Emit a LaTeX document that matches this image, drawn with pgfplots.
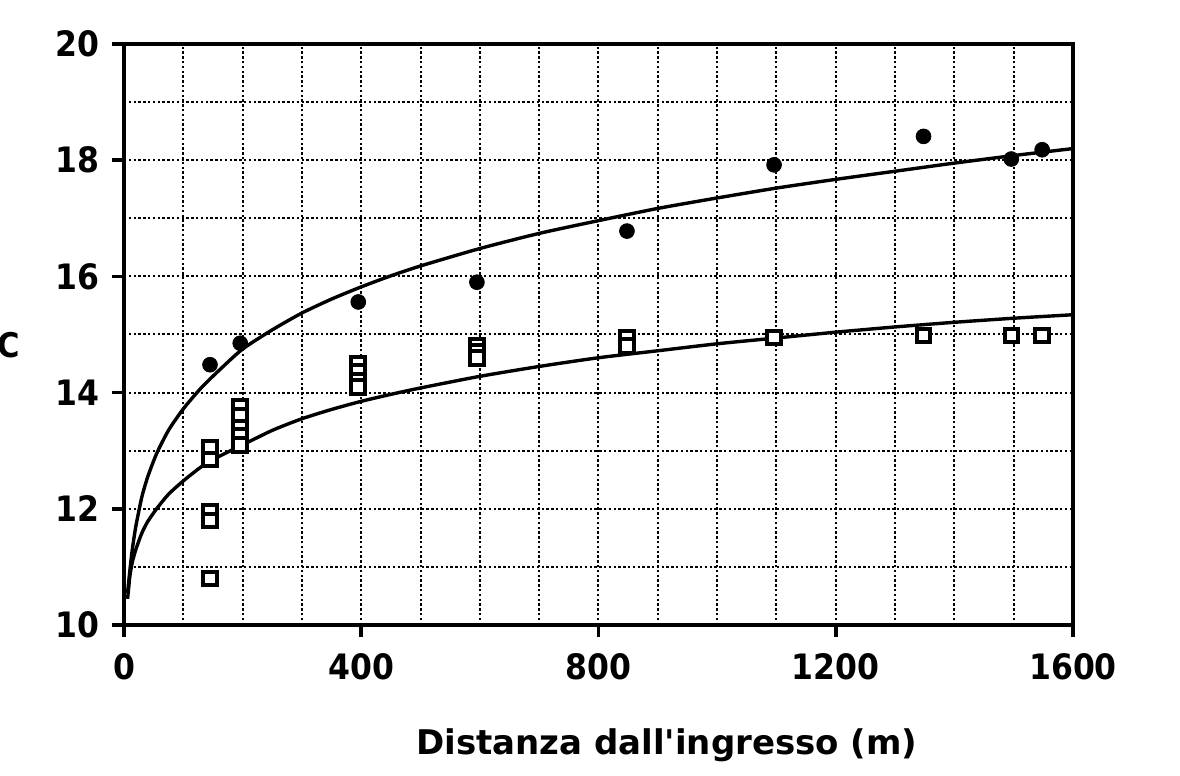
\documentclass[border=0pt]{standalone}
\usepackage{fontspec}
\setmainfont{DejaVu Sans}[FakeStretch=0.9]
\newfontfamily\lblfont{DejaVu Sans}
\usepackage{pgfplots}
\pgfplotsset{compat=1.18}
\begin{document}
\begin{tikzpicture}
\useasboundingbox (-62pt,-75.5pt) rectangle (528pt,312.5pt);
\begin{axis}[
  at={(0,0)}, anchor=south west,
  scale only axis, width=474.5pt, height=290.5pt,
  xmin=0, xmax=1600, ymin=10, ymax=20,
  xtick={0,400,...,1600}, ytick={10,12,...,20},
  minor xtick={100,200,...,1500}, minor ytick={11,13,...,19},
  grid=both,
  major grid style={black, line width=1pt, dash pattern=on 1.2pt off 1.2pt},
  minor grid style={black, line width=1pt, dash pattern=on 1.2pt off 1.2pt},
  tick align=outside, tick pos=left,
  major tick length=6pt, minor tick length=0pt,
  every tick/.style={black, line width=1.8pt},
  axis line style={line width=2pt},
  /pgf/number format/assume math mode=true,
  /pgf/number format/1000 sep={},
  tick label style={font=\fontsize{17.5}{17.5}\selectfont\bfseries},
  xticklabel style={yshift=-4.5pt},
  yticklabel style={xshift=-3pt},
  xlabel={\lblfont Distanza dall'ingresso (m)},
  xlabel style={font=\fontsize{17}{17}\selectfont\bfseries, at={(axis description cs:0.572,0)}, anchor=center, yshift=-60pt},
  ylabel={C},
  ylabel style={font=\fontsize{17}{17}\selectfont\bfseries, at={(axis description cs:0,0.482)}, anchor=center, rotate=-90, xshift=-57.5pt},
  clip=false,
]
% fitted curves
\addplot[black, line width=1.7pt, smooth, tension=0.4] coordinates {
  (6,10.55) (8,10.75) (10,10.95) (14,11.3) (20,11.7) (30,12.2) (40,12.55)
  (55,12.95) (75,13.35) (100,13.72) (130,14.08) (160,14.38)
  (200,14.75) (250,15.08) (300,15.37) (350,15.61) (400,15.82) (450,16.01)
  (500,16.18) (600,16.48) (700,16.74) (800,16.96) (900,17.17) (1000,17.35)
  (1100,17.52) (1200,17.67) (1300,17.81) (1400,17.95) (1500,18.08) (1600,18.2)
};
\addplot[black, line width=1.7pt, smooth, tension=0.4] coordinates {
  (6,10.45) (8,10.65) (10,10.85) (14,11.08) (20,11.3) (30,11.58) (40,11.78)
  (55,12.0) (75,12.25) (100,12.48) (130,12.72) (160,12.9)
  (200,13.1) (250,13.35) (300,13.55) (350,13.71) (400,13.85) (450,13.97)
  (500,14.08) (600,14.28) (700,14.45) (800,14.6) (900,14.72) (1000,14.84)
  (1100,14.94) (1200,15.04) (1300,15.13) (1400,15.21) (1500,15.28) (1600,15.34)
};
% open squares
\addplot[only marks, mark=square*, mark size=3.4pt,
  mark options={fill=white, draw=black, line width=2pt}] coordinates {
  (145,13.05) (145,12.85) (145,11.95) (145,11.8) (145,10.8)
  (196,13.75) (196,13.6) (196,13.4) (196,13.25) (196,13.1)
  (395,14.5) (395,14.35) (395,14.2) (395,14.1)
  (595,14.8) (595,14.7) (595,14.6)
  (848,14.95) (848,14.8)
  (1096,14.95) (1348,14.98) (1496,14.98) (1548,14.98)
};
% filled circles
\addplot[only marks, mark=*, mark size=3.7pt, mark options={fill=black, draw=black}] coordinates {
  (145,14.48) (196,14.85) (395,15.56) (595,15.9) (848,16.78)
  (1096,17.92) (1348,18.41) (1496,18.02) (1548,18.18)
};
\end{axis}
\end{tikzpicture}
\end{document}
